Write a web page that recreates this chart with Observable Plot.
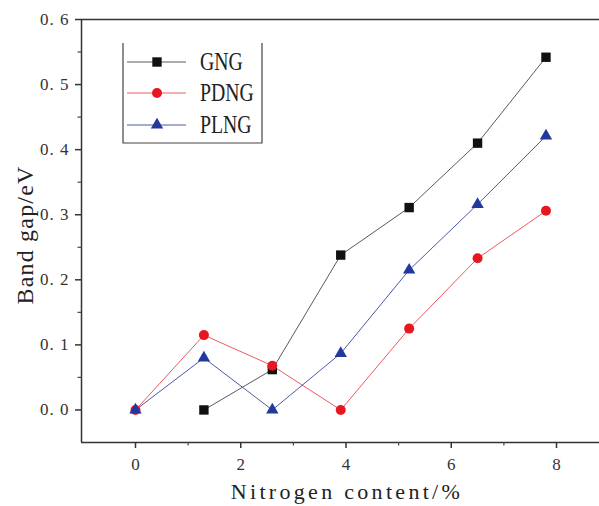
<!DOCTYPE html>
<html><head><meta charset="utf-8">
<script src="https://cdn.jsdelivr.net/npm/d3@7"></script>
<script src="https://cdn.jsdelivr.net/npm/@observablehq/plot@0.6"></script>
<style>
body{margin:0;background:#fff} svg{display:block}
g[aria-label="y-axis tick label"] text{letter-spacing:1px}
</style>
</head><body><div id="chart"></div>
<script>
const nitrogen = [0, 1.3, 2.6, 3.9, 5.2, 6.5, 7.8];
const gng  = [null, 0, 0.062, 0.238, 0.311, 0.410, 0.542];
const pdng = [0, 0.115, 0.068, 0, 0.125, 0.233, 0.306];
const plng = [0, 0.080, 0, 0.087, 0.215, 0.316, 0.421];
const seriesNames = ["GNG", "PDNG", "PLNG"];
const seriesValues = [gng, pdng, plng];
const seriesColors = ["#111111", "#e8161e", "#24389c"];
const lineColors = ["#5a5a5a", "#ec5a60", "#4a5aa8"];
const seriesSymbols = ["square", "circle", "triangle"];
const xTicks = [0, 2, 4, 6, 8];
const xMinor = [1, 3, 5, 7];
const yTicks = [0, 0.1, 0.2, 0.3, 0.4, 0.5, 0.6];
const yMinor = [0.05, 0.15, 0.25, 0.35, 0.45, 0.55];
const xLabel = "Nitrogen content/%";
const yLabel = "Band gap/eV";
const xDomain = [-1.026, 8.817];
const yDomain = [-0.05, 0.6];

const rows = [];
seriesNames.forEach((s, i) => {
  seriesValues[i].forEach((v, j) => {
    if (v !== null) rows.push({series: s, x: nitrogen[j], y: v});
  });
});

const serif = "'Liberation Serif', 'DejaVu Serif', serif";
const fmt = d => d.toFixed(1).replace(".", ". ");

const marks = [
  Plot.ruleY([yDomain[1]], {stroke: "#333", strokeWidth: 1.5}),
  Plot.ruleY([yDomain[0]], {stroke: "#333", strokeWidth: 1.5}),
  Plot.ruleX([xDomain[0]], {stroke: "#333", strokeWidth: 1.5}),
  Plot.axisY({ticks: yTicks, tickSize: 6, tickPadding: 6, tickFormat: fmt, fontSize: 17, fill: "#333", stroke: "#333", strokeWidth: 1.5, label: null}),
  Plot.axisY({ticks: yMinor, tickSize: 3.5, tickFormat: () => "", stroke: "#444", strokeWidth: 1.2, label: null}),
  Plot.axisX({ticks: xTicks, tickSize: 6, tickPadding: 9, tickFormat: d => String(d), fontSize: 17, fill: "#333", stroke: "#333", strokeWidth: 1.5, label: null}),
  Plot.axisX({ticks: xMinor, tickSize: 3.5, tickFormat: () => "", stroke: "#444", strokeWidth: 1.2, label: null})
];
seriesNames.forEach((s, i) => {
  const d = rows.filter(r => r.series === s);
  marks.push(Plot.line(d, {x: "x", y: "y", stroke: lineColors[i], strokeWidth: 1}));
});
seriesNames.forEach((s, i) => {
  const d = rows.filter(r => r.series === s);
  const r = seriesSymbols[i] === "square" ? 5.3 : seriesSymbols[i] === "circle" ? 5 : 4.6;
  marks.push(Plot.dot(d, {x: "x", y: "y", symbol: () => seriesSymbols[i], r, fill: seriesColors[i], stroke: "none"}));
});

const chart = Plot.plot({
  width: 599, height: 506,
  marginLeft: 81, marginRight: 0, marginTop: 19, marginBottom: 64,
  x: {domain: xDomain, axis: null},
  y: {domain: yDomain, axis: null},
  symbol: {domain: seriesSymbols, range: seriesSymbols},
  style: {fontFamily: serif, background: "#fff", overflow: "hidden"},
  marks
});
document.getElementById("chart").append(chart);

const svg = d3.select(chart);
// axis titles
svg.append("text").attr("transform", "translate(33,235) rotate(-90)").attr("text-anchor", "middle")
  .attr("font-size", 24).attr("font-family", serif).attr("fill", "#222").style("letter-spacing", "1.2px").text(yLabel);
svg.append("text").attr("x", 347).attr("y", 499).attr("text-anchor", "middle")
  .attr("font-size", 22).attr("font-family", serif).attr("fill", "#222").style("letter-spacing", "3.3px").text(xLabel);

// legend
const lg = svg.append("g");
const box = {x0: 123, x1: 262, y0: 43, y1: 143};
lg.append("path").attr("d", `M${box.x0},${box.y0}V${box.y1}H${box.x1}V${box.y0}`).attr("fill", "none").attr("stroke", "#444").attr("stroke-width", 1.2);
const rowsY = [62, 93, 125];
seriesNames.forEach((s, i) => {
  const y = rowsY[i];
  lg.append("line").attr("x1", 127).attr("x2", 186).attr("y1", y).attr("y2", y).attr("stroke", lineColors[i]).attr("stroke-width", 1);
  const area = seriesSymbols[i] === "square" ? Math.PI * 5.3 * 5.3 : seriesSymbols[i] === "circle" ? Math.PI * 25 : Math.PI * 4.6 * 4.6;
  const sym = seriesSymbols[i] === "square" ? d3.symbolSquare : seriesSymbols[i] === "circle" ? d3.symbolCircle : d3.symbolTriangle;
  lg.append("path").attr("d", d3.symbol(sym, area)()).attr("transform", `translate(157,${y})`).attr("fill", seriesColors[i]);
  lg.append("text").attr("transform", `translate(200,${y + 8}) scale(0.76,1)`).attr("text-anchor", "start")
    .attr("font-size", 26).attr("font-family", serif).attr("fill", "#222").text(s);
});
</script></body></html>
